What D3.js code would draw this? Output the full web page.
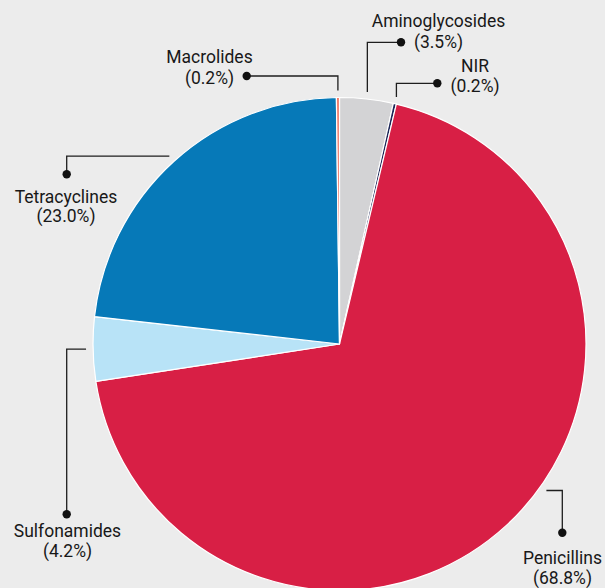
<!DOCTYPE html>
<html>
<head>
<meta charset="utf-8">
<script src="https://cdn.jsdelivr.net/npm/d3@7"></script>
<style>
  html, body { margin: 0; padding: 0; background: #ececec; }
  svg { display: block; }
  text { font-family: Roboto, "Noto Sans", sans-serif; font-size: 17.5px; fill: #181818; }
</style>
</head>
<body>
<svg id="chart" width="605" height="588"></svg>
<script>
// Share of antibiotic classes, clockwise from 12 o'clock
const categories = ["Aminoglycosides", "NIR", "Penicillins", "Sulfonamides", "Tetracyclines", "Macrolides"];
const shares = [3.5, 0.2, 68.8, 4.2, 23.0, 0.2];
const colors = ["#d3d3d5", "#1c2657", "#d81f45", "#b8e3f7", "#0679b8", "#ef7a68"];

// Label placement: dot position, leader routing ("vh" = vertical first, "hv" = horizontal first),
// text centre and the two baselines; angleShift nudges where the leader leaves the rim (degrees).
const labelLayout = {
  "Aminoglycosides": { dot: [401, 42.3], route: "vh", tx: 438.5, ty: [26.7, 48], angleShift: 0 },
  "NIR":             { dot: [437.3, 83.3], route: "vh", tx: 475, ty: [71.7, 92], angleShift: 0 },
  "Penicillins":     { dot: [562.3, 532.7], route: "hv", tx: 562.5, ty: [564.3, 584], angleShift: -12 },
  "Sulfonamides":    { dot: [66.7, 514.3], route: "hv", tx: 67.5, ty: [536.7, 556.5], angleShift: 0 },
  "Tetracyclines":   { dot: [66.7, 174.3], route: "hv", tx: 66, ty: [202.7, 222], angleShift: 0 },
  "Macrolides":      { dot: [246.7, 76], route: "vh", tx: 209.5, ty: [62.5, 83.5], angleShift: 0 }
};

const cx = 339.5, cy = 344, radius = 246.5;
const svg = d3.select("#chart");

const data = categories.map((c, i) => ({ category: c, value: shares[i], color: colors[i] }));

const pie = d3.pie().sort(null).value(d => d.value).startAngle(0).endAngle(2 * Math.PI);
const arcs = pie(data);
const arc = d3.arc().innerRadius(0).outerRadius(radius);

const g = svg.append("g").attr("transform", `translate(${cx},${cy})`);
g.selectAll("path.slice")
  .data(arcs)
  .join("path")
  .attr("class", "slice")
  .attr("d", arc)
  .attr("fill", d => d.data.color)
  .attr("stroke", "#ffffff")
  .attr("stroke-width", 1.2)
  .attr("stroke-linejoin", "round");

// Leader lines and labels
const leaderR = radius + 7;
const ann = svg.append("g");
arcs.forEach(a => {
  const L = labelLayout[a.data.category];
  const mid = (a.startAngle + a.endAngle) / 2 + L.angleShift * Math.PI / 180;
  const sx = cx + leaderR * Math.sin(mid);
  const sy = cy - leaderR * Math.cos(mid);
  const [dx, dy] = L.dot;
  const elbow = L.route === "vh" ? [sx, dy] : [dx, sy];
  ann.append("path")
    .attr("d", d3.line()([[sx, sy], elbow, [dx, dy]]))
    .attr("fill", "none")
    .attr("stroke", "#1e1e1e")
    .attr("stroke-width", 1.3);
  ann.append("circle")
    .attr("cx", dx).attr("cy", dy).attr("r", 4.2)
    .attr("fill", "#111");
  const t = ann.append("text").attr("text-anchor", "middle");
  t.append("tspan").attr("x", L.tx).attr("y", L.ty[0]).text(a.data.category);
  t.append("tspan").attr("x", L.tx).attr("y", L.ty[1]).text(`(${a.data.value.toFixed(1)}%)`);
});
</script>
</body>
</html>
